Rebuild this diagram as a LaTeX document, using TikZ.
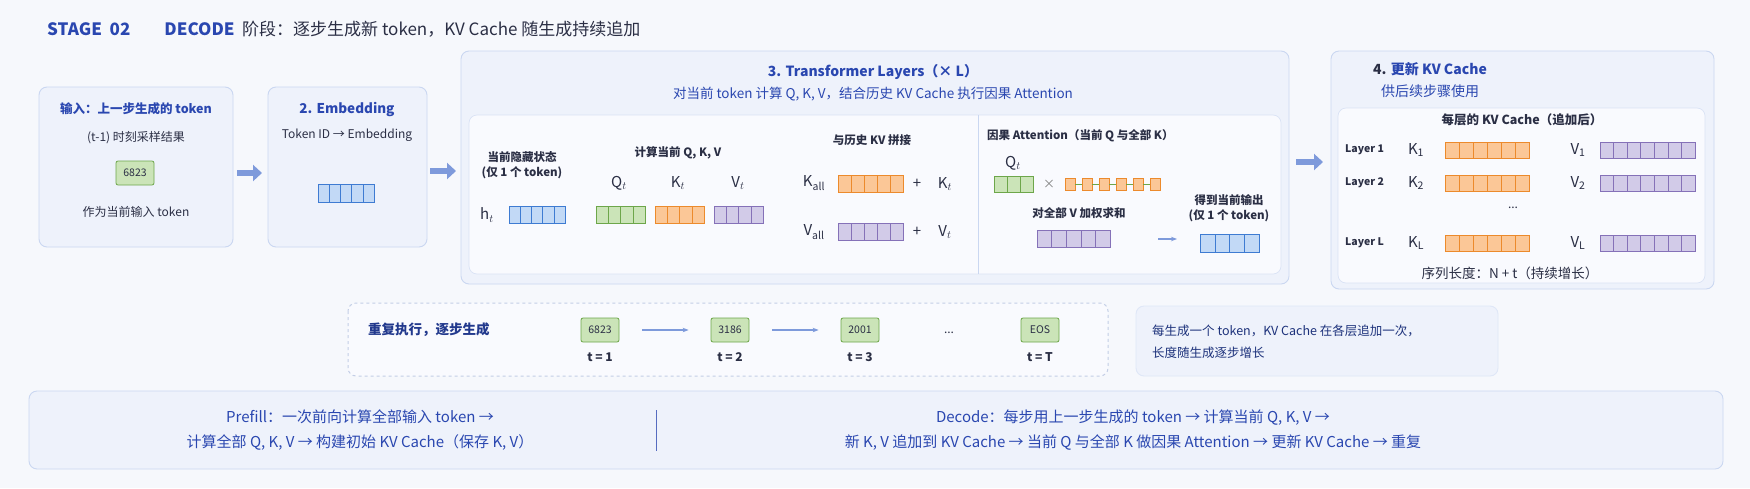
\documentclass[tikz,border=0pt]{standalone}
\usepackage{fontspec}
\setmainfont{Noto Sans CJK SC}
\usetikzlibrary{arrows.meta,calc}
\definecolor{bgc}{HTML}{F6F8FC}
\definecolor{boxf}{HTML}{EEF2FB}
\definecolor{boxd}{HTML}{CAD7F1}
\definecolor{innf}{HTML}{F9FAFE}
\definecolor{ttl}{HTML}{2A47B0}
\definecolor{txt}{HTML}{2B2F45}
\definecolor{arr}{HTML}{7E9ADB}
\definecolor{gf}{HTML}{CBE4B8}\definecolor{gd}{HTML}{6DA64A}
\definecolor{of}{HTML}{FBC797}\definecolor{od}{HTML}{EC8A2C}
\definecolor{pf}{HTML}{D2CBE8}\definecolor{pd}{HTML}{8571B8}
\definecolor{bf}{HTML}{C2D9F6}\definecolor{bd}{HTML}{3E7BD2}
\newcommand\cellrow[7]{%
  \draw[fill=#6,draw=#7,line width=0.9] (#1,#2) rectangle (#3,#4);
  \pgfmathtruncatemacro\nmone{#5-1}%
  \foreach \i in {1,...,\nmone}{\draw[#7,line width=0.5] ({#1+(#3-#1)*\i/#5},#2) -- ({#1+(#3-#1)*\i/#5},#4);}}
\begin{document}
\begin{tikzpicture}[x=1pt,y=-1pt,
  box/.style={draw=boxd,fill=boxf,rounded corners=8,line width=0.9},
  inner/.style={draw=boxd!70,fill=innf,rounded corners=8,line width=0.7},
  t/.style={text=txt,font=\fontsize{12}{14}\selectfont,inner sep=0},
  tb/.style={text=txt,font=\fontsize{11.5}{13}\selectfont\bfseries,inner sep=0},
  tt/.style={text=ttl,font=\fontsize{13.5}{16}\selectfont\bfseries,inner sep=0},
  lab/.style={text=txt,font=\fontsize{15}{17}\selectfont,inner sep=0},
  tok/.style={draw=gd,fill=gf,rounded corners=2,line width=0.8,minimum width=38,minimum height=24,inner sep=0,font=\fontsize{10.5}{12}\selectfont,text=txt},
  bigarr/.style={-{Triangle[length=9,width=16]},line width=6,draw=arr},
  smarr/.style={-{Stealth[length=6]},line width=1.2,draw=arr}]
\useasboundingbox[fill=bgc] (0,0) rectangle (1750,488);
% title
\node[anchor=west,inner sep=0,font=\fontsize{17}{20}\selectfont] (title) at (47,29)
 {\textcolor{ttl}{\bfseries STAGE\ \ 02\qquad DECODE}\ \ \textcolor{txt}{阶段：逐步生成新 token，KV Cache 随生成持续追加}};
% box 1
\draw[box] (39,87) rectangle (233,247); \coordinate (b1e) at (233,173);
\node[tt,font=\fontsize{12.5}{14}\selectfont\bfseries] (b1t) at (136,109) {输入：上一步生成的 token};
\node[t] (b1s) at (136,138) {(t-1) 时刻采样结果};
\node[tok] (tk0) at (135,173) {6823};
\node[t] (b1u) at (136,212) {作为当前输入 token};
% box 2
\draw[box] (268,87) rectangle (427,247); \coordinate (b2w) at (268,173); \coordinate (b2e) at (427,171);
\node[tt] (b2t) at (347,109) {2. Embedding};
\node[t] (b2s) at (347,135) {Token ID → Embedding};
\cellrow{318}{184}{374}{202}{5}{bf}{bd}
% box 3
\draw[box] (461,51) rectangle (1289,284); \coordinate (b3w) at (461,171); \coordinate (b3e) at (1289,162);
\node[tt,font=\fontsize{14}{16}\selectfont\bfseries] (b3t) at (873,72) {3. Transformer Layers（× L）};
\node[t,text=ttl,font=\fontsize{13.5}{15}\selectfont] (b3s) at (873,94) {对当前 token 计算 Q, K, V，结合历史 KV Cache 执行因果 Attention};
\draw[inner] (469,115) rectangle (1281,274);
\draw[boxd,line width=0.7] (978,115) -- (978,274);
\node[tb] (hs1) at (522,157) {当前隐藏状态};
\node[tb] (hs2) at (522,173) {(仅 1 个 token)};
\node[lab] (ht) at (487,215) {$\mathrm{h}_t$};
\cellrow{509}{206}{565}{223}{5}{bf}{bd}
\node[tb] (qkv) at (678,153) {计算当前 Q, K, V};
\node[lab] (qt) at (619,183) {$\mathrm{Q}_t$};
\node[lab] (kt) at (678,183) {$\mathrm{K}_t$};
\node[lab] (vt) at (738,183) {$\mathrm{V}_t$};
\cellrow{596}{206}{645}{223}{4}{gf}{gd}
\cellrow{655}{206}{704}{223}{4}{of}{od}
\cellrow{714}{206}{763}{223}{4}{pf}{pd}
\node[tb] (cat) at (872,140) {与历史 KV 拼接};
\node[lab] (kall) at (814,183) {$\mathrm{K}_{\mathrm{all}}$};
\cellrow{838}{175}{903}{192}{5}{of}{od}
\node[lab] (p1) at (917,184) {+};
\node[lab] (kt2) at (945,184) {$\mathrm{K}_t$};
\node[lab] (vall) at (814,232) {$\mathrm{V}_{\mathrm{all}}$};
\cellrow{838}{223}{903}{240}{5}{pf}{pd}
\node[lab] (p2) at (917,232) {+};
\node[lab] (vt2) at (945,232) {$\mathrm{V}_t$};
\node[tb,anchor=west] (att) at (987,136) {因果 Attention（当前 Q 与全部 K）};
\node[lab] (qt3) at (1013,163) {$\mathrm{Q}_t$};
\cellrow{994}{176}{1033}{192}{3}{gf}{gd}
\node[t,text=gray] (times) at (1049,184) {×};
\foreach \k in {0,...,5}{\draw[fill=of,draw=od,line width=0.8] ({1065+17*\k},178) rectangle ({1075+17*\k},190);}
\foreach \k in {0,...,4}{\draw[gd,line width=0.6] ({1075+17*\k},184) -- ({1082+17*\k},184);}
\node[tb] (wsum) at (1079,213) {对全部 V 加权求和};
\cellrow{1037}{230}{1110}{247}{5}{pf}{pd}
\coordinate (oa) at (1158,239); \coordinate (ob) at (1177,239);
\draw[smarr] (oa) -- (ob);
\node[tb] (out1) at (1229,200) {得到当前输出};
\node[tb] (out2) at (1229,216) {(仅 1 个 token)};
\cellrow{1200}{234}{1259}{252}{4}{bf}{bd}
% box 4
\draw[box] (1331,51) rectangle (1714,289); \coordinate (b4w) at (1331,162);
\node[anchor=west,inner sep=0,font=\fontsize{14}{16}\selectfont\bfseries] (b4t) at (1373,69) {\textcolor{txt}{4.} \textcolor{ttl}{更新 KV Cache}};
\node[t,anchor=west,text=ttl,font=\fontsize{14}{16}\selectfont] (b4s) at (1381,91) {供后续步骤使用};
\draw[inner] (1338,108) rectangle (1705,283);
\node[tb,font=\fontsize{12.5}{14}\selectfont\bfseries] (kvh) at (1522,120) {每层的 KV Cache（追加后）};
\foreach \yy/\nm/\sb in {150/1/1,183/2/2,243/L/L}{
  \node[tb,anchor=west,font=\fontsize{10.5}{12}\selectfont\bfseries] (ly\nm) at (1345,\yy) {Layer \nm};
  \node[lab] (k\nm) at (1416,\yy) {$\mathrm{K}_{\mathrm{\sb}}$};
  \cellrow{1445}{\yy-8}{1529}{\yy+8}{6}{of}{od}
  \node[lab] (v\nm) at (1578,\yy) {$\mathrm{V}_{\mathrm{\sb}}$};
  \cellrow{1600}{\yy-8}{1695}{\yy+8}{7}{pf}{pd}
}
\node[t] (dots4) at (1513,208) {...};
\node[t,font=\fontsize{13.5}{15}\selectfont] (seq) at (1510,273) {序列长度：N + t（持续增长）};
% big arrows
\draw[bigarr] ($(b1e)+(4,0)$) -- ($(b2w)+(-6,0)$);
\draw[bigarr] ($(b2e)+(3,0)$) -- ($(b3w)+(-5,0)$);
\draw[bigarr] ($(b3e)+(7,0)$) -- ($(b4w)+(-8,0)$);
% dashed repeat box
\draw[draw=boxd!90!gray,dashed,line width=1,rounded corners=8,fill=innf] (348,303) rectangle (1108,376);
\node[tt,anchor=west,font=\fontsize{13.5}{15}\selectfont\bfseries,text=ttl!80!black] (rep) at (368,330) {重复执行，逐步生成};
\node[tok] (s1) at (600,330) {6823};
\node[tok] (s2) at (730,330) {3186};
\node[tok] (s3) at (860,330) {2001};
\node[t] (s4) at (949,333) {...};
\node[tok] (s5) at (1040,330) {EOS};
\draw[smarr] ($(s1.east)+(23,0)$) -- ($(s2.west)+(-22,0)$);
\draw[smarr] ($(s2.east)+(23,0)$) -- ($(s3.west)+(-22,0)$);
\foreach \n/\l in {s1/1,s2/2,s3/3,s5/T}{\node[tb,font=\fontsize{12}{13}\selectfont\bfseries] (l\n) at ($(\n)+(0,27)$) {t\ =\ \l};}
% note
\draw[box,draw=boxd!60] (1136,306) rectangle (1498,376);
\node[t,anchor=west,text=ttl!70!black,align=left,font=\fontsize{12.5}{22}\selectfont] (note) at (1152,342) {每生成一个 token，KV Cache 在各层追加一次，\\长度随生成逐步增长};
% bottom
\draw[box] (29,391) rectangle (1723,469);
\draw[ttl!80,line width=0.8] (656,410) -- (656,451);
\node[t,text=ttl,align=center,font=\fontsize{15}{25}\selectfont] (pre) at (360,430) {Prefill：一次前向计算全部输入 token →\\计算全部 Q, K, V → 构建初始 KV Cache（保存 K, V）};
\node[t,text=ttl,align=center,font=\fontsize{15}{25}\selectfont] (dec) at (1133,430) {Decode：每步用上一步生成的 token → 计算当前 Q, K, V →\\新 K, V 追加到 KV Cache → 当前 Q 与全部 K 做因果 Attention → 更新 KV Cache → 重复};
\end{tikzpicture}
\end{document}
